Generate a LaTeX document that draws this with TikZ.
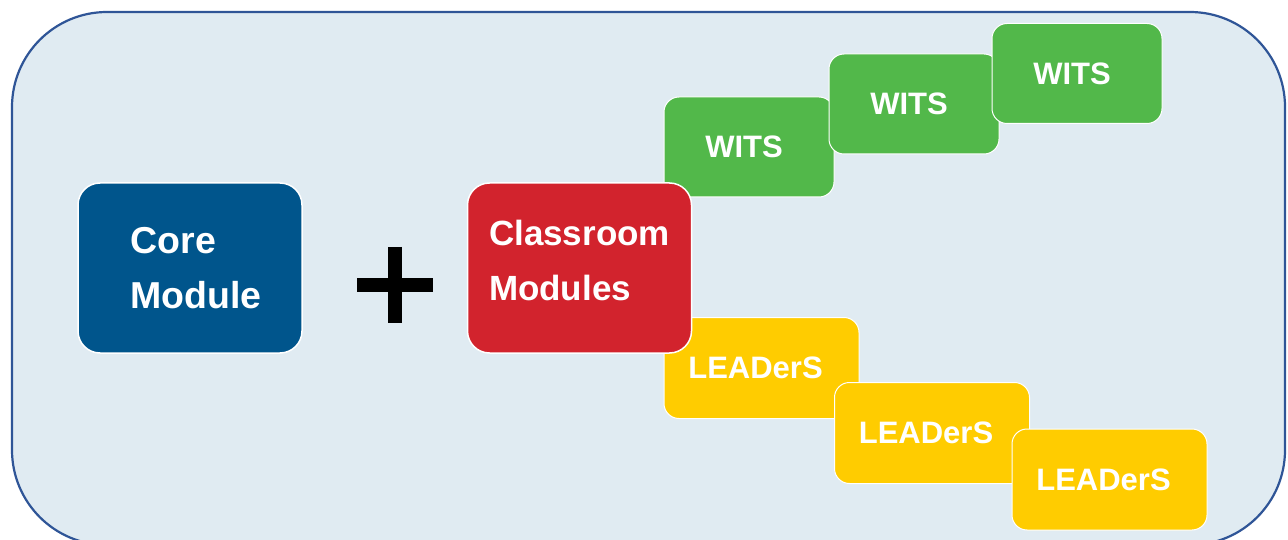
\documentclass[tikz,border=0pt]{standalone}
\usepackage{fontspec}
\setmainfont{Liberation Sans}
\usepackage{tikz}
\usetikzlibrary{positioning}
\definecolor{framefill}{HTML}{E0EBF2}
\definecolor{frameline}{HTML}{2F5597}
\definecolor{coreblue}{HTML}{00558C}
\definecolor{classred}{HTML}{D2232D}
\definecolor{witsgreen}{HTML}{52B84A}
\definecolor{leadyellow}{HTML}{FFCC00}
\newcommand{\modfont}[2]{\fontsize{#1}{#2}\selectfont\bfseries}

\begin{document}
\begin{tikzpicture}[x=1pt,y=-1pt,
		bigbox/.style={draw=white, line width=1.5pt, rounded corners=22pt, minimum width=224pt, minimum height=170pt, inner sep=0pt},
		boxtext/.style={text=white, align=left, inner sep=0pt},
		witsbox/.style={draw=white, line width=1pt, fill=witsgreen, rounded corners=15pt, minimum width=170pt, minimum height=100pt, inner sep=0pt, text=white, font=\modfont{31}{36}, execute at end node=\hspace{10pt}},
		leadbox/.style={draw=white, line width=1pt, fill=leadyellow, rounded corners=15pt, minimum width=195pt, minimum height=101pt, inner sep=0pt, text=white, font=\modfont{31}{36}, execute at end node=\hspace{12pt}},
		plusbar/.style={line width=14.5pt}]
	\useasboundingbox (0,0) rectangle (1288,540);
	\draw[fill=framefill, draw=frameline, line width=2.2pt, rounded corners=95pt] (12,12) rectangle (1285,545);
	% core module
	\node[bigbox, fill=coreblue] (core) at (190,268) {};
	\node[boxtext, anchor=west, font=\modfont{37.5}{55}] (coretext) at ([xshift=53pt]core.west) {Core\\Module};
	% plus
	\coordinate (plus) at (395,285);
	\draw[plusbar] ([xshift=-38pt]plus) -- ([xshift=38pt]plus);
	\draw[plusbar] ([yshift=38pt]plus) -- ([yshift=-38pt]plus);
	% wits
	\node[witsbox] (wits1) at (749,147) {WITS};
	\node[witsbox] (wits2) at (914,104) {WITS};
	\node[witsbox] (wits3) at (1077,73.5) {WITS};
	% leaders
	\node[leadbox] (lead1) at (761.5,368) {LEADerS};
	\node[leadbox] (lead2) at (932,433) {LEADerS};
	\node[leadbox] (lead3) at (1109.5,479.5) {LEADerS};
	% classroom modules
	\node[bigbox, fill=classred] (class) at (579.5,268) {};
	\node[boxtext, font=\modfont{35}{55}] (classtext) at ([yshift=7.5pt]class.center) {Classroom\\Modules};
\end{tikzpicture}
\end{document}
